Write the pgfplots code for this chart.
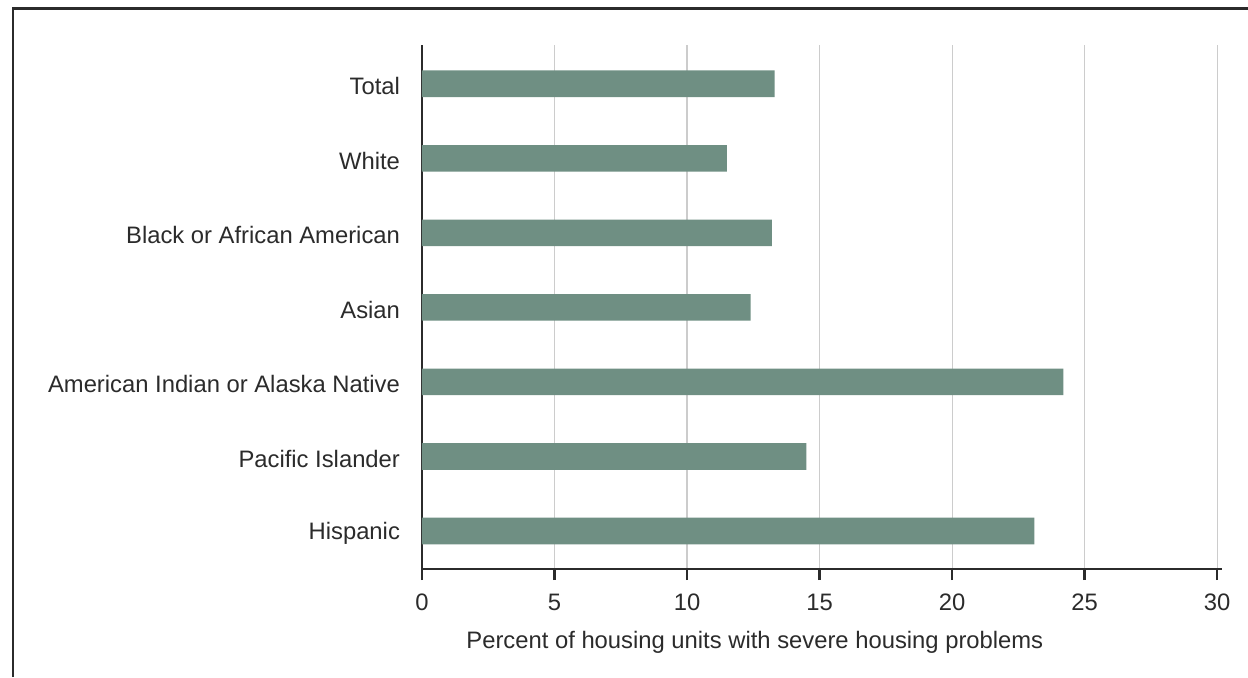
\documentclass[border=0pt]{standalone}
\usepackage{fontspec}
\setmainfont{Liberation Sans}
\usepackage{pgfplots}
\pgfplotsset{compat=1.18}
\definecolor{barc}{HTML}{6F8F83}
\definecolor{gridc}{HTML}{CCCCCC}
\definecolor{framec}{HTML}{2B2B2B}

\begin{document}
\begin{tikzpicture}
\useasboundingbox (0,0) rectangle (624pt,338.5pt);
% outer frame (left and top edges only)
\draw[framec, line width=1.3pt] (6.4pt,0) -- (6.4pt,334.4pt) -- (624pt,334.4pt);
\begin{axis}[
    at={(211pt,54pt)}, anchor=south west,
    scale only axis,
    width=399.85pt, height=262pt,
    xbar, bar width=13.3pt,
    xmin=0, xmax=30.17,
    ymin=-0.51, ymax=6.52,
    xtick={0,5,...,30},
    ytick={0,...,6},
    yticklabels={Hispanic, Pacific Islander, American Indian or Alaska Native, Asian, Black or African American, White, Total},
    axis x line*=bottom, axis y line*=left,
    axis line style={framec, line width=1.3pt},
    tick align=outside,
    major tick length=5.5pt,
    xtick style={framec, line width=1.3pt},
    ytick style={draw=none},
    xmajorgrids,
    major grid style={gridc, line width=0.6pt},
    /pgf/number format/assume math mode=true,
    tick label style={font=\fontsize{11.9}{13.5}\selectfont, text=framec},
    yticklabel style={xshift=-2pt, yshift=-1.2pt},
    xticklabel style={yshift=-3.5pt},
    xlabel={Percent of housing units with severe housing problems},
    xlabel style={font=\fontsize{11.9}{13.5}\selectfont, text=framec, yshift=-3.5pt, xshift=-33.5pt},
]
\addplot[fill=barc, draw=none] coordinates {
    (23.1,0)
    (14.5,1)
    (24.2,2)
    (12.4,3)
    (13.2,4)
    (11.5,5)
    (13.3,6)
};
\end{axis}
\end{tikzpicture}
\end{document}
